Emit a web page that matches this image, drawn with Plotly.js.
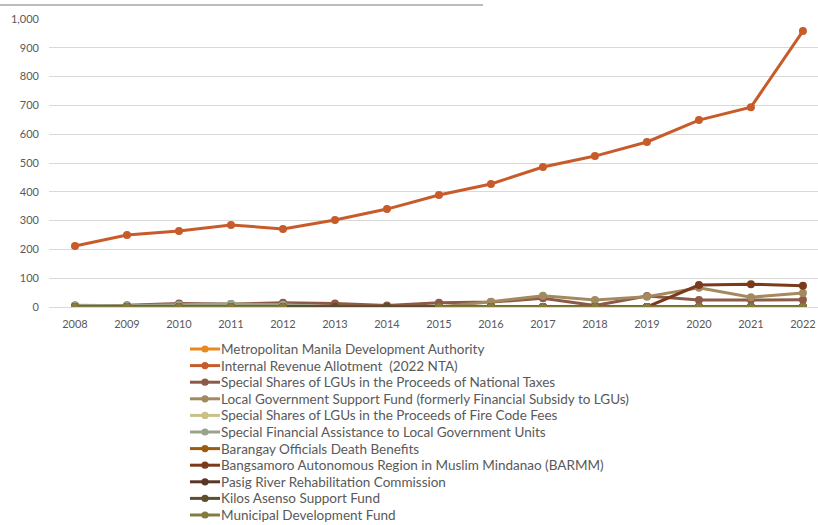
<!DOCTYPE html>
<html>
<head>
<meta charset="utf-8">
<script src="https://cdn.plot.ly/plotly-3.0.1.min.js"></script>
<style>html,body{margin:0;padding:0;background:#fff;}#chart{width:818px;height:525px;}</style>
</head>
<body>
<div id="chart"></div>
<script>
const years = [2008,2009,2010,2011,2012,2013,2014,2015,2016,2017,2018,2019,2020,2021,2022];

const seriesNames = [
  "Metropolitan Manila Development Authority",
  "Internal Revenue Allotment  (2022 NTA)",
  "Special Shares of LGUs in the Proceeds of National Taxes",
  "Local Government Support Fund (formerly Financial Subsidy to LGUs)",
  "Special Shares of LGUs in the Proceeds of Fire Code Fees",
  "Special Financial Assistance to Local Government Units",
  "Barangay Officials Death Benefits",
  "Bangsamoro Autonomous Region in Muslim Mindanao (BARMM)",
  "Pasig River Rehabilitation Commission",
  "Kilos Asenso Support Fund",
  "Municipal Development Fund"
];

const mmda      = [0,0,0,0,0,0,0,0,0,0,0,0,2,2,2];
const ira       = [212,250,264,285,271,302,340,389,427,486,524,573,649,694,958];
const specialTax= [5,6,12,10,15,12,5,15,17,30,5,38,24,25,25];
const lgsf      = [0,0,0,0,0,0,0,0,18,39,24,36,67,34,49];
const fireCode  = [0,0,0,0,0,0,0,0,0,0,0,0,0,0,0];
const sfa       = [6,4,8,10,8,0,0,0,0,0,0,0,0,0,0];
const brgyDeath = [0,0,0,0,0,0,0,0,0,0,0,0,0,0,0];
const barmm     = [0,0,0,0,0,0,0,0,0,0,0,0,76,79,74];
const pasig     = [0,0,0,0,0,0,0,0,0,0,0,0,0,0,0];
const kilos     = [0,0,0,0,0,0,0,0,0,0,0,0,0,0,0];
const mdf       = [0,0,0,0,0,null,null,0,0,0,0,0,0,0,0];

const seriesValues = [mmda, ira, specialTax, lgsf, fireCode, sfa, brgyDeath, barmm, pasig, kilos, mdf];
const seriesColors = ["#E8891F","#C75B2A","#8C5A47","#A38A5E","#C9C08A","#98A48A","#9A5B12","#7B3A1C","#5B3526","#5E4E30","#847C3E"];

const traces = seriesNames.map((name, i) => ({
  type: "scatter",
  mode: "lines+markers",
  name: name,
  x: years,
  y: seriesValues[i],
  connectgaps: false,
  line: {color: seriesColors[i], width: 3},
  marker: {color: seriesColors[i], size: 8},
  hoverinfo: "x+y+name"
}));

// plot area geometry (pixels) used to place the custom legend in paper coordinates
const W = 818, H = 525, ML = 49, MR = 0, MT = 19, MB = 218;
const PW = W - ML - MR, PH = H - MT - MB;
const px2x = p => (p - ML) / PW;
const py2y = p => (H - MB - p) / PH;

const legX0 = 190, legX1 = 220, legTextX = 219, legY0 = 349, legStep = 16.6, dotR = 3.6;
const legendShapes = [];
const legendAnnotations = [];
seriesNames.forEach((name, i) => {
  const yc = legY0 + legStep * i;
  legendShapes.push({
    type: "line", xref: "paper", yref: "paper",
    x0: px2x(legX0), x1: px2x(legX1), y0: py2y(yc), y1: py2y(yc),
    line: {color: seriesColors[i], width: 3}
  });
  legendShapes.push({
    type: "circle", xref: "paper", yref: "paper",
    x0: px2x(205 - dotR), x1: px2x(205 + dotR), y0: py2y(yc + dotR), y1: py2y(yc - dotR),
    fillcolor: seriesColors[i], line: {color: seriesColors[i], width: 0}
  });
  legendAnnotations.push({
    xref: "paper", yref: "paper", x: px2x(legTextX), y: py2y(yc),
    xanchor: "left", yanchor: "middle", showarrow: false,
    text: name, font: {size: 13.5, color: "#595959"}
  });
});

const layout = {
  width: W,
  height: H,
  margin: {l: ML, r: MR, t: MT, b: MB, autoexpand: false},
  paper_bgcolor: "#ffffff",
  plot_bgcolor: "#ffffff",
  font: {family: "Lato, 'Liberation Sans', sans-serif", color: "#595959", size: 11},
  xaxis: {
    type: "linear",
    range: [2007.5, 2022.29],
    tickvals: years,
    ticktext: years.map(String),
    showgrid: false,
    zeroline: false,
    showline: false,
    ticks: "",
    ticklabelstandoff: 9,
    tickfont: {size: 11, color: "#595959"},
    fixedrange: true
  },
  yaxis: {
    range: [0, 1000],
    dtick: 100,
    tickformat: ",",
    showgrid: true,
    gridcolor: "#D9D9D9",
    gridwidth: 1,
    zeroline: true,
    zerolinecolor: "#D9D9D9",
    zerolinewidth: 1,
    showline: false,
    ticks: "",
    ticklabelstandoff: 9,
    tickfont: {size: 11, color: "#595959"},
    fixedrange: true
  },
  showlegend: false,
  annotations: legendAnnotations,
  shapes: [{
    type: "line", xref: "paper", yref: "paper",
    x0: px2x(0), x1: px2x(483), y0: py2y(5), y1: py2y(5),
    line: {color: "#A6A6A6", width: 1.5}
  }].concat(legendShapes)
};

Plotly.newPlot("chart", traces, layout, {displayModeBar: false, staticPlot: true});
</script>
</body>
</html>
